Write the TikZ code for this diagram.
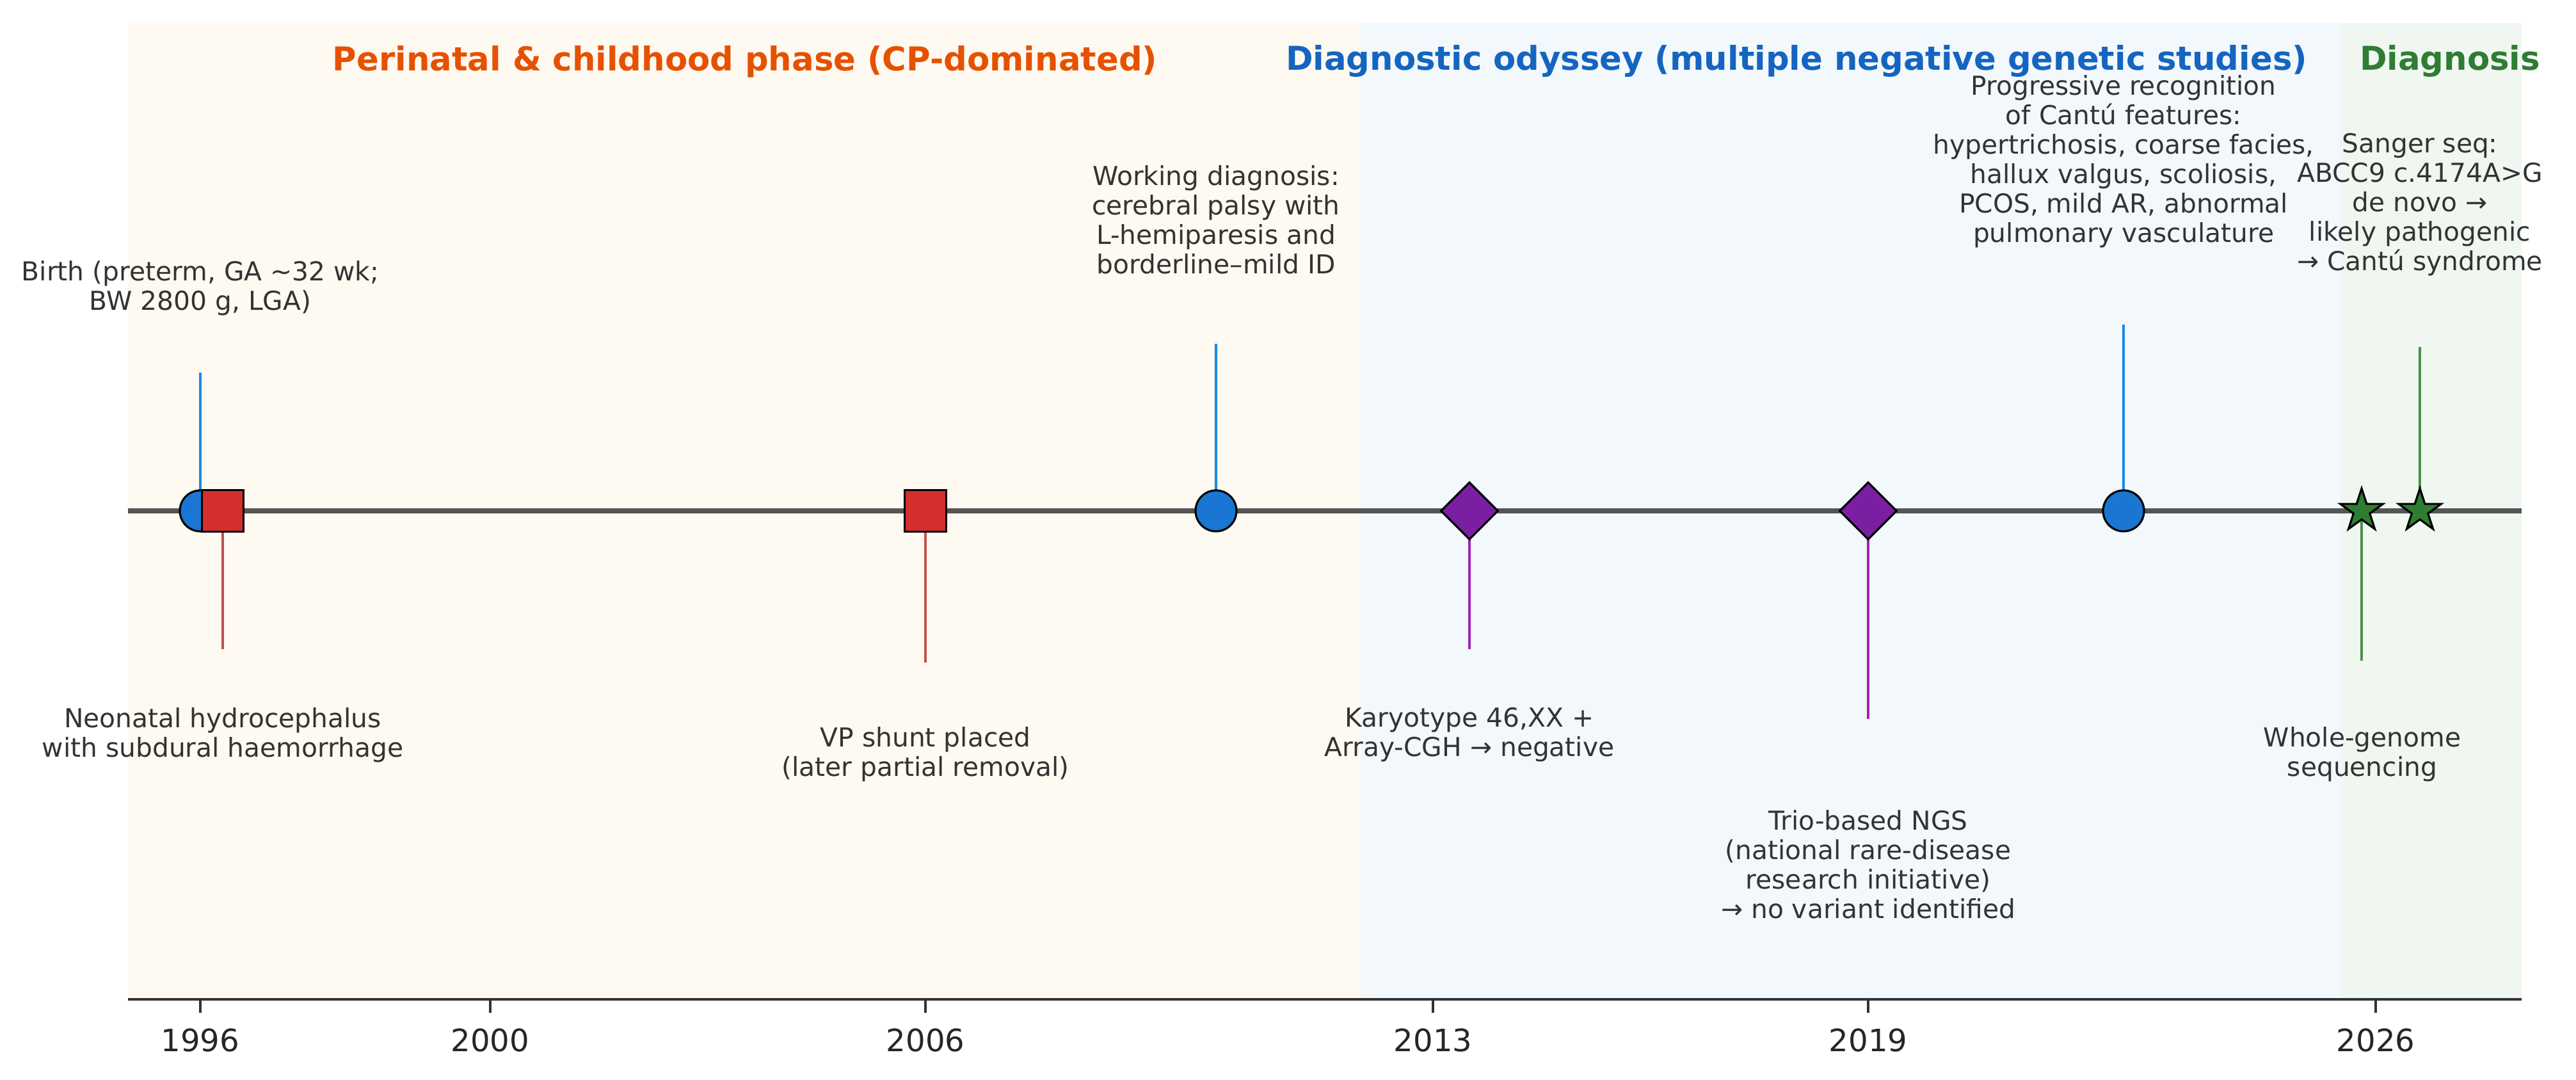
\documentclass[tikz,border=0pt]{standalone}
\usepackage{fontspec}
\setmainfont{DejaVu Sans}
\usetikzlibrary{shapes.geometric}
\pgfdeclarelayer{bg}
\pgfdeclarelayer{stems}
\pgfsetlayers{bg,stems,main}
\definecolor{bgO}{HTML}{FEF9F1}
\definecolor{bgB}{HTML}{F2F8FC}
\definecolor{bgG}{HTML}{F0F7F1}
\definecolor{txt}{HTML}{333333}
\definecolor{mblue}{HTML}{1976D2}
\definecolor{mred}{HTML}{D32F2F}
\definecolor{mpurple}{HTML}{7B1FA2}
\definecolor{mgreen}{HTML}{2E7D32}
\definecolor{sblue}{HTML}{1E88E5}
\definecolor{sred}{HTML}{C0504D}
\definecolor{spurple}{HTML}{9C27B0}
\definecolor{sgreen}{HTML}{4A8F4A}
\definecolor{tOrange}{HTML}{E65100}
\definecolor{tBlue}{HTML}{1565C0}
\definecolor{tGreen}{HTML}{2E7D32}
\definecolor{tline}{HTML}{555555}
\definecolor{axis}{HTML}{333333}
\tikzset{
  lbl/.style={font=\fontsize{11.6}{13.1}\selectfont, text=txt, align=center, inner sep=0pt},
  ttl/.style={font=\fontsize{14.6}{17}\selectfont\bfseries, inner sep=0pt},
  ticklbl/.style={font=\fontsize{13.7}{16}\selectfont, text=black!85, inner sep=0pt},
  circmark/.style={circle, draw=black, fill=mblue, minimum size=0.64cm, inner sep=0pt, line width=0.9pt},
  sqmark/.style={rectangle, draw=black, fill=mred, minimum size=0.65cm, inner sep=0pt, line width=0.9pt},
  diamark/.style={diamond, draw=black, fill=mpurple, minimum width=0.9cm, minimum height=0.9cm, inner sep=0pt, line width=0.9pt},
  starmark/.style={star, star points=5, star point ratio=2.618, draw=black, fill=mgreen, minimum size=0.7cm, inner sep=0pt, line width=0.9pt},
  stemline/.style={line width=1.2pt},
  tl/.style={line width=2.4pt, draw=tline},
}
\begin{document}
\begin{tikzpicture}
\useasboundingbox (0,0) rectangle (40.25,16.87);
\begin{pgfonlayer}{bg}
  \fill[white] (0,0) rectangle (40.25,16.87);
  \fill[bgO] (2.00,1.26) rectangle (21.26,16.51);
  \fill[bgB] (21.26,1.26) rectangle (36.56,16.51);
  \fill[bgG] (36.56,1.26) rectangle (39.40,16.51);
  \draw[tl] (2.00,8.89) -- (39.40,8.89);
  % axis spine and ticks
  \draw[axis, line width=1.4pt] (2.00,1.26) -- (39.40,1.26);
  \foreach \x/\y in {3.13/1996, 7.66/2000, 14.46/2006, 22.39/2013, 29.19/2019, 37.12/2026}{
    \draw[axis, line width=1.1pt] (\x,1.26) -- (\x,1.05);
    \node[ticklbl] at (\x,0.62) {\y};
  }
\end{pgfonlayer}

% titles
\node[ttl, text=tOrange] (t1) at (11.64,15.91) {Perinatal \& childhood phase (CP-dominated)};
\node[ttl, text=tBlue] (t2) at (28.07,15.91) {Diagnostic odyssey (multiple negative genetic studies)};
\node[ttl, text=tGreen] (t3) at (38.28,15.91) {Diagnosis};

% stem end coordinates
\coordinate (birthEnd) at (3.13,11.05);
\coordinate (hydroEnd) at (3.48,6.73);
\coordinate (shuntEnd) at (14.46,6.52);
\coordinate (cpEnd) at (19.00,11.50);
\coordinate (karyoEnd) at (22.96,6.73);
\coordinate (ngsEnd) at (29.19,5.64);
\coordinate (cantuEnd) at (33.18,11.80);
\coordinate (wgsEnd) at (36.90,6.55);
\coordinate (sangerEnd) at (37.81,11.45);

% markers
\node[circmark] (birth) at (3.13,8.89) {};
\node[sqmark] (hydro) at (3.48,8.89) {};
\node[sqmark] (shunt) at (14.46,8.89) {};
\node[circmark] (cp) at (19.00,8.89) {};
\node[diamark] (karyo) at (22.96,8.89) {};
\node[diamark] (ngs) at (29.19,8.89) {};
\node[circmark] (cantu) at (33.18,8.89) {};
\node[starmark] (wgs) at (36.90,8.89) {};
\node[starmark] (sanger) at (37.81,8.89) {};

% stems
\begin{pgfonlayer}{stems}
  \draw[stemline, sblue] (birth.center) -- (birthEnd);
  \draw[stemline, sred] (hydro.center) -- (hydroEnd);
  \draw[stemline, sred] (shunt.center) -- (shuntEnd);
  \draw[stemline, sblue] (cp.center) -- (cpEnd);
  \draw[stemline, spurple] (karyo.center) -- (karyoEnd);
  \draw[stemline, spurple] (ngs.center) -- (ngsEnd);
  \draw[stemline, sblue] (cantu.center) -- (cantuEnd);
  \draw[stemline, sgreen] (wgs.center) -- (wgsEnd);
  \draw[stemline, sgreen] (sanger.center) -- (sangerEnd);
\end{pgfonlayer}

% labels
\node[lbl] (lbirth) at (3.13,12.37) {Birth (preterm, GA \textasciitilde32 wk;\\BW 2800 g, LGA)};
\node[lbl] (lhydro) at (3.48,5.39) {Neonatal hydrocephalus\\with subdural haemorrhage};
\node[lbl] (lshunt) at (14.46,5.09) {VP shunt placed\\(later partial removal)};
\node[lbl] (lcp) at (19.00,13.44) {Working diagnosis:\\cerebral palsy with\\L-hemiparesis and\\borderline–mild ID};
\node[lbl] (lkaryo) at (22.96,5.39) {Karyotype 46,XX +\\Array-CGH → negative};
\node[lbl] (lngs) at (29.19,3.37) {Trio-based NGS\\(national rare-disease\\research initiative)\\→ no variant identified};
\node[lbl] (lcantu) at (33.18,14.35) {Progressive recognition\\of Cantú features:\\hypertrichosis, coarse facies,\\hallux valgus, scoliosis,\\PCOS, mild AR, abnormal\\pulmonary vasculature};
\node[lbl] (lwgs) at (36.91,5.09) {Whole-genome\\sequencing};
\node[lbl] (lsanger) at (37.81,13.67) {Sanger seq:\\ABCC9 c.4174A>G\\de novo →\\likely pathogenic\\→ Cantú syndrome};
\end{tikzpicture}
\end{document}
